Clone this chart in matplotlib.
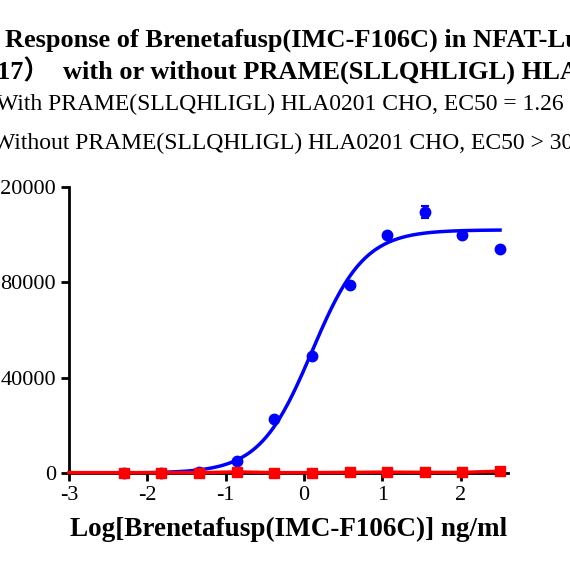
import numpy as np
import matplotlib.pyplot as plt

plt.rcParams['font.family'] = ['Liberation Serif', 'Noto Sans CJK SC']
plt.rcParams['axes.unicode_minus'] = False

# data
log_conc = [-2.3, -1.82, -1.34, -0.86, -0.38, 0.1, 0.58, 1.06, 1.54, 2.02, 2.5]
with_prame = [0, 0, 500, 5000, 22500, 49000, 79000, 100000, 109500, 100000, 94000]
with_err = [0, 0, 0, 0, 0, 0, 0, 0, 2500, 0, 0]
without_prame = [200, 200, 150, 500, 200, 200, 300, 400, 300, 300, 800]

# 4PL fit parameters
bottom, top, logec50, hill = 0, 102000, 0.1, 1.3

def fourpl(x, b, t, c, h):
    return b + (t - b) / (1 + 10 ** ((c - x) * h))

fig = plt.figure(figsize=(5.7, 5.7), dpi=100)
ax = fig.add_axes([0.121, 0.170, 0.77, 0.502])

xx = np.linspace(-3, 2.5, 300)
ax.plot(xx, fourpl(xx, bottom, top, logec50, hill), color='#0000ff', lw=2.5, zorder=2)
ax.errorbar(log_conc, with_prame, yerr=with_err, fmt='o', color='#0000ff', ms=7.5,
            capsize=3, elinewidth=1.5, capthick=1.5, clip_on=False, zorder=3)
ax.plot([-3] + log_conc, [without_prame[0]] + without_prame, color='#ff0000', lw=2.5, zorder=4, clip_on=False)
ax.plot(log_conc, without_prame, 's', color='#ff0000', ms=7.5, clip_on=False, zorder=5)

ax.set_xlim(-3, 2.6)
ax.set_ylim(0, 120000)
ax.set_xticks([-3, -2, -1, 0, 1, 2])
ax.set_yticks([0, 40000, 80000, 120000])
ax.spines['top'].set_visible(False)
ax.spines['right'].set_visible(False)
ax.spines['left'].set_linewidth(2)
ax.spines['bottom'].set_linewidth(2)
ax.tick_params(width=2, length=6, labelsize=16)
ax.set_xlabel('Log[Brenetafusp(IMC-F106C)] ng/ml', fontsize=19.5, fontweight='bold', labelpad=8)

fig.text(5 / 570, 1 - 40 / 570, 'Response of Brenetafusp(IMC-F106C) in NFAT-Luc',
         fontsize=19, fontweight='bold', va='center', ha='left')
fig.text(-3 / 570, 1 - 71 / 570, '17）  with or without PRAME(SLLQHLIGL) HLA',
         fontsize=19, fontweight='bold', va='center', ha='left')
fig.text(-4 / 570, 1 - 104 / 570, 'With PRAME(SLLQHLIGL) HLA0201 CHO, EC50 = 1.26',
         fontsize=17, va='center', ha='left')
fig.text(-7 / 570, 1 - 143 / 570, 'Without PRAME(SLLQHLIGL) HLA0201 CHO, EC50 > 300',
         fontsize=17, va='center', ha='left')

fig.savefig('out.png', dpi=100)
